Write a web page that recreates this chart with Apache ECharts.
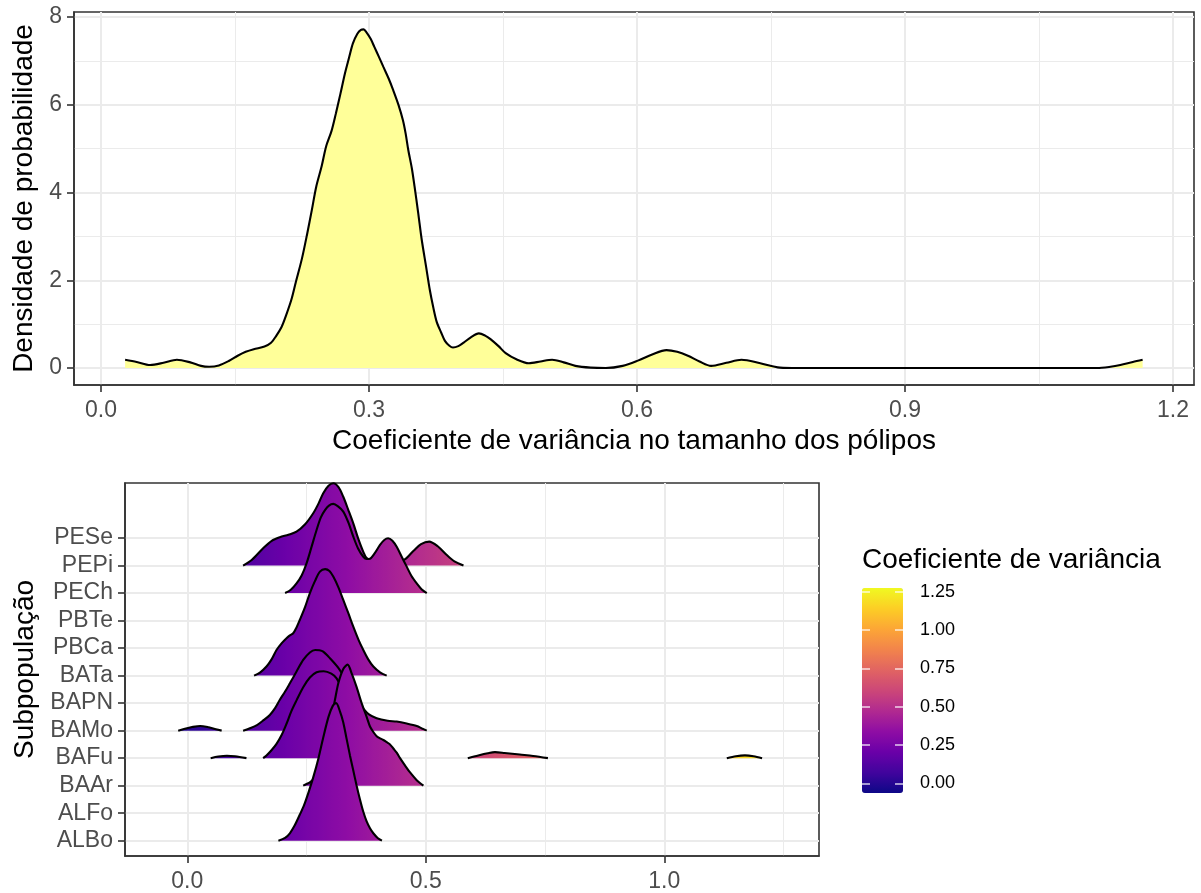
<!DOCTYPE html>
<html><head><meta charset="utf-8">
<script src="https://cdn.jsdelivr.net/npm/echarts@6/dist/echarts.min.js"></script>
<style>html,body{margin:0;padding:0;background:#fff}#c{width:1201px;height:893px}</style>
</head><body><div id="c"></div>
<script>
// ---------- DATA ----------
// Top panel: overall density of the coefficient of variation
const densX = [0.027,0.04,0.055,0.07,0.085,0.10,0.112,0.121,0.132,0.143,0.153,0.162,0.171,0.183,0.19,0.196,0.202,0.207,0.213,0.218,0.225,0.231,0.236,0.241,0.247,0.252,0.258,0.263,0.268,0.273,0.278,0.282,0.287,0.291,0.294,0.297,0.302,0.306,0.311,0.316,0.322,0.327,0.333,0.338,0.341,0.344,0.348,0.351,0.355,0.359,0.364,0.368,0.372,0.376,0.381,0.385,0.39,0.394,0.40,0.406,0.414,0.423,0.43,0.436,0.445,0.453,0.465,0.479,0.492,0.505,0.518,0.531,0.548,0.565,0.584,0.601,0.617,0.633,0.645,0.657,0.67,0.683,0.70,0.717,0.738,0.76,0.78,0.9,1.0,1.115,1.13,1.141,1.155,1.166];
const densY = [0.19,0.14,0.07,0.12,0.19,0.13,0.05,0.03,0.06,0.16,0.28,0.37,0.43,0.49,0.57,0.73,0.93,1.19,1.55,1.95,2.5,3.08,3.6,4.14,4.6,5.05,5.4,5.81,6.25,6.71,7.1,7.40,7.62,7.71,7.72,7.66,7.5,7.32,7.1,6.87,6.6,6.34,6.0,5.65,5.35,4.97,4.55,4.14,3.55,2.93,2.3,1.79,1.38,1.04,0.8,0.62,0.51,0.47,0.5,0.58,0.7,0.79,0.74,0.66,0.5,0.34,0.2,0.11,0.15,0.19,0.13,0.05,0.01,0.0,0.05,0.17,0.31,0.41,0.37,0.28,0.15,0.05,0.12,0.19,0.11,0.01,0.0,0.0,0.0,0.0,0.03,0.07,0.14,0.19];

// Bottom panel: subpopulation categories (bottom -> top)
const rowNames = ['ALBo','ALFo','BAAr','BAFu','BAMo','BAPN','BATa','PBCa','PBTe','PECh','PEPi','PESe'];
// ridge profiles: [x, height in row units]; null = gap
const ridgePEPi = [[0.117,0],[0.135,0.2],[0.159,0.63],[0.177,0.9],[0.194,1.03],[0.212,1.12],[0.229,1.23],[0.247,1.5],[0.264,1.9],[0.275,2.25],[0.285,2.63],[0.296,2.9],[0.306,2.99],[0.317,2.85],[0.327,2.5],[0.338,2.0],[0.348,1.53],[0.358,1.0],[0.369,0.5],[0.376,0.27],[0.39,0.15],[0.415,0.12],[0.44,0.15],[0.456,0.22],[0.475,0.55],[0.49,0.78],[0.507,0.87],[0.525,0.7],[0.544,0.38],[0.56,0.15],[0.579,0]];
const ridgePECh = [[0.205,0],[0.217,0.12],[0.229,0.35],[0.240,0.65],[0.250,1.08],[0.260,1.65],[0.271,2.29],[0.280,2.75],[0.289,3.02],[0.297,3.18],[0.306,3.24],[0.316,3.15],[0.327,2.96],[0.338,2.55],[0.348,2.05],[0.358,1.62],[0.369,1.32],[0.376,1.24],[0.383,1.25],[0.393,1.45],[0.404,1.75],[0.413,1.93],[0.421,1.99],[0.430,1.9],[0.439,1.68],[0.450,1.3],[0.460,0.96],[0.470,0.62],[0.481,0.35],[0.491,0.14],[0.502,0]];
const ridgeBATa = [[0.140,0],[0.153,0.12],[0.166,0.33],[0.177,0.6],[0.187,0.93],[0.198,1.18],[0.208,1.36],[0.215,1.46],[0.222,1.54],[0.229,1.75],[0.236,2.03],[0.247,2.5],[0.257,3.0],[0.268,3.45],[0.278,3.78],[0.289,3.87],[0.298,3.8],[0.306,3.6],[0.317,3.2],[0.327,2.75],[0.338,2.25],[0.348,1.78],[0.359,1.3],[0.369,0.93],[0.379,0.6],[0.390,0.33],[0.404,0.12],[0.418,0]];
const ridgeBAMo = [[-0.019,0],[-0.005,0.07],[0.01,0.13],[0.027,0.17],[0.045,0.12],[0.06,0.05],[0.072,0],null,[0.117,0],[0.13,0.08],[0.146,0.2],[0.160,0.38],[0.173,0.57],[0.184,0.82],[0.194,1.12],[0.205,1.42],[0.215,1.72],[0.229,2.15],[0.243,2.57],[0.257,2.84],[0.268,2.93],[0.277,2.92],[0.285,2.87],[0.299,2.63],[0.317,2.27],[0.33,1.9],[0.345,1.4],[0.358,1.0],[0.369,0.8],[0.38,0.6],[0.397,0.45],[0.42,0.36],[0.439,0.33],[0.46,0.26],[0.481,0.17],[0.492,0.08],[0.502,0]];
const ridgeBAFu = [[0.049,0],[0.065,0.06],[0.083,0.09],[0.10,0.07],[0.124,0],null,[0.159,0],[0.166,0.1],[0.176,0.28],[0.187,0.52],[0.198,0.85],[0.208,1.25],[0.218,1.7],[0.229,2.1],[0.243,2.58],[0.257,2.93],[0.271,3.12],[0.286,3.16],[0.302,3.07],[0.313,2.9],[0.325,2.5],[0.34,1.8],[0.355,1.1],[0.37,0.5],[0.385,0.2],[0.40,0.05],[0.42,0],null,[0.588,0],[0.61,0.1],[0.63,0.18],[0.645,0.22],[0.665,0.19],[0.697,0.13],[0.725,0.08],[0.756,0],null,[1.131,0],[1.15,0.07],[1.169,0.1],[1.187,0.07],[1.205,0]];
const ridgeBAAr = [[0.243,0],[0.25,0.06],[0.257,0.12],[0.265,0.25],[0.275,0.55],[0.285,1.0],[0.295,1.8],[0.305,2.7],[0.311,3.25],[0.317,3.75],[0.327,4.24],[0.336,4.4],[0.345,4.06],[0.355,3.58],[0.366,2.97],[0.376,2.5],[0.383,2.15],[0.39,1.95],[0.397,1.8],[0.404,1.72],[0.411,1.66],[0.418,1.58],[0.425,1.5],[0.432,1.35],[0.439,1.2],[0.446,1.0],[0.457,0.72],[0.467,0.48],[0.481,0.2],[0.495,0]];
const ridgeALBo = [[0.191,0],[0.205,0.1],[0.215,0.27],[0.225,0.55],[0.236,0.95],[0.245,1.3],[0.254,1.75],[0.264,2.3],[0.275,3.0],[0.285,3.75],[0.296,4.5],[0.305,4.9],[0.312,5.0],[0.320,4.7],[0.327,4.3],[0.334,3.7],[0.341,3.1],[0.348,2.55],[0.355,2.0],[0.362,1.5],[0.369,1.05],[0.376,0.7],[0.383,0.45],[0.390,0.27],[0.399,0.1],[0.408,0]];
// draw order: back (top rows) to front (bottom rows)
const ridges = [['PEPi',ridgePEPi],['PECh',ridgePECh],['BATa',ridgeBATa],['BAMo',ridgeBAMo],['BAFu',ridgeBAFu],['BAAr',ridgeBAAr],['ALBo',ridgeALBo]];

// tick values
const topXMajor = [0,0.3,0.6,0.9,1.2];
const topXMinor = [0.15,0.45,0.75,1.05];
const topYMajor = [0,2,4,6,8];
const topYMinor = [1,3,5,7];
const botXMajor = [0,0.5,1.0];
const botXMinor = [0.25,0.75,1.25];
const legendTicks = [0,0.25,0.5,0.75,1.0,1.25];
const plasma = ['#0D0887','#41049D','#6A00A8','#8F0DA4','#B12A90','#CC4778','#E16462','#F2844B','#FCA636','#FCCE25','#F0F921'];

// ---------- STYLE ----------
const FONT = "'Liberation Sans', Arial, Helvetica, sans-serif";
const GRIDC = '#EBEBEB', INK = '#333333', TXT = '#4D4D4D';
const LW = 2.1;

function majorAxis(extra) {
  return Object.assign({
    type: 'value',
    axisLine: { show: true, onZero: false, lineStyle: { color: INK, width: 1.6 } },
    splitLine: { show: true, lineStyle: { color: GRIDC, width: 2 } },
    nameTextStyle: { fontSize: 28, color: '#000', fontFamily: FONT }
  }, extra);
}
function minorAxis(extra, vals) {
  return Object.assign({
    type: 'value',
    axisLine: { show: false, onZero: false },
    axisTick: { show: false, customValues: vals },
    axisLabel: { show: false, customValues: vals },
    splitLine: { show: true, lineStyle: { color: GRIDC, width: 1 } }
  }, extra);
}
function ticks(vals) { return { show: true, inside: false, customValues: vals, length: 7, lineStyle: { color: INK, width: 1.6 } }; }
function labels(vals, fmt, margin) { return { customValues: vals, formatter: fmt, color: TXT, fontSize: 23, fontFamily: FONT, margin: margin }; }

const TOPX = [-0.0302, 1.2235], TOPY = [-0.386, 8.116];
const BOTX = [-0.1306, 1.3243], BOTY = [0.444, 14.0];
const LEG = [-0.063, 1.274];
const rowVals = rowNames.map((_, i) => i + 1);

const xAxis = [
  majorAxis({ gridIndex: 0, min: TOPX[0], max: TOPX[1], position: 'bottom',
    axisTick: ticks(topXMajor), axisLabel: labels(topXMajor, v => v.toFixed(1), 14),
    name: 'Coeficiente de variância no tamanho dos pólipos', nameLocation: 'middle', nameGap: 42 }),
  minorAxis({ gridIndex: 0, min: TOPX[0], max: TOPX[1], position: 'bottom' }, topXMinor),
  majorAxis({ gridIndex: 1, min: BOTX[0], max: BOTX[1], position: 'bottom',
    axisTick: ticks(botXMajor), axisLabel: labels(botXMajor, v => v.toFixed(1), 14) }),
  minorAxis({ gridIndex: 1, min: BOTX[0], max: BOTX[1], position: 'bottom' }, botXMinor),
  { gridIndex: 2, type: 'value', min: 0, max: 1, show: false }
];
const yAxis = [
  majorAxis({ gridIndex: 0, min: TOPY[0], max: TOPY[1], position: 'left',
    axisTick: ticks(topYMajor), axisLabel: labels(topYMajor, v => String(v), 12),
    name: 'Densidade de probabilidade', nameLocation: 'middle', nameGap: 28 }),
  minorAxis({ gridIndex: 0, min: TOPY[0], max: TOPY[1], position: 'left' }, topYMinor),
  majorAxis({ gridIndex: 1, min: BOTY[0], max: BOTY[1], position: 'left',
    axisTick: ticks(rowVals), axisLabel: labels(rowVals, v => rowNames[Math.round(v) - 1], 12),
    name: 'Subpopulação', nameLocation: 'middle', nameGap: 80 }),
  { gridIndex: 2, type: 'value', position: 'right', min: LEG[0], max: LEG[1], z: 10,
    axisLine: { show: false, onZero: false }, splitLine: { show: false },
    axisTick: { show: true, inside: true, length: 8, customValues: legendTicks, lineStyle: { color: '#ffffff', width: 1.5, opacity: 0.8 } },
    axisLabel: { show: true, customValues: legendTicks, formatter: v => v.toFixed(2), color: '#000', fontSize: 18, fontFamily: FONT, margin: 17 } },
  { gridIndex: 2, type: 'value', position: 'left', min: LEG[0], max: LEG[1], z: 10,
    axisLine: { show: false, onZero: false }, splitLine: { show: false },
    axisTick: { show: true, inside: true, length: 8, customValues: legendTicks, lineStyle: { color: '#ffffff', width: 1.5, opacity: 0.8 } },
    axisLabel: { show: false, customValues: legendTicks } }
];

const series = [{
  type: 'line', xAxisIndex: 0, yAxisIndex: 0, smooth: 0.3, showSymbol: false, silent: true, z: 2,
  data: densX.map((x, i) => [x, densY[i]]),
  lineStyle: { color: '#000', width: LW },
  areaStyle: { color: '#FFFF99', opacity: 1, origin: 0 }
}];
ridges.forEach(([name, prof], i) => {
  const base = rowNames.indexOf(name) + 1;
  series.push({
    type: 'line', name: name, xAxisIndex: 2, yAxisIndex: 2, smooth: 0.3, showSymbol: false, silent: true,
    connectNulls: false, z: 3 + i,
    data: prof.map(p => p === null ? ['-', '-'] : [p[0], base + p[1]]),
    lineStyle: { color: '#000', width: LW },
    areaStyle: { opacity: 1, origin: base }
  });
});

const chart = echarts.init(document.getElementById('c'), null, { renderer: 'canvas' });
chart.setOption({
  animation: false,
  backgroundColor: '#ffffff',
  textStyle: { fontFamily: FONT },
  title: { text: 'Coeficiente de variância', left: 862, top: 546, padding: 0,
    textStyle: { fontSize: 28, fontWeight: 'normal', color: '#000', fontFamily: FONT } },
  grid: [
    { left: 74, top: 12, width: 1120, height: 373, show: true, borderColor: INK, borderWidth: 1.6, backgroundColor: 'transparent' },
    { left: 125, top: 483, width: 694, height: 373, show: true, borderColor: INK, borderWidth: 1.6, backgroundColor: 'transparent' },
    { left: 862, top: 588, width: 41, height: 205, show: false }
  ],
  visualMap: {
    type: 'continuous', show: true, seriesIndex: ridges.map((_, i) => i + 1), dimension: 0,
    min: LEG[0], max: LEG[1], inRange: { color: plasma },
    calculable: false, hoverLink: false, orient: 'vertical', z: 4,
    left: 857, top: 583, padding: 5, itemWidth: 41, itemHeight: 205, text: null
  },
  xAxis: xAxis,
  yAxis: yAxis,
  series: series
});
</script></body></html>
